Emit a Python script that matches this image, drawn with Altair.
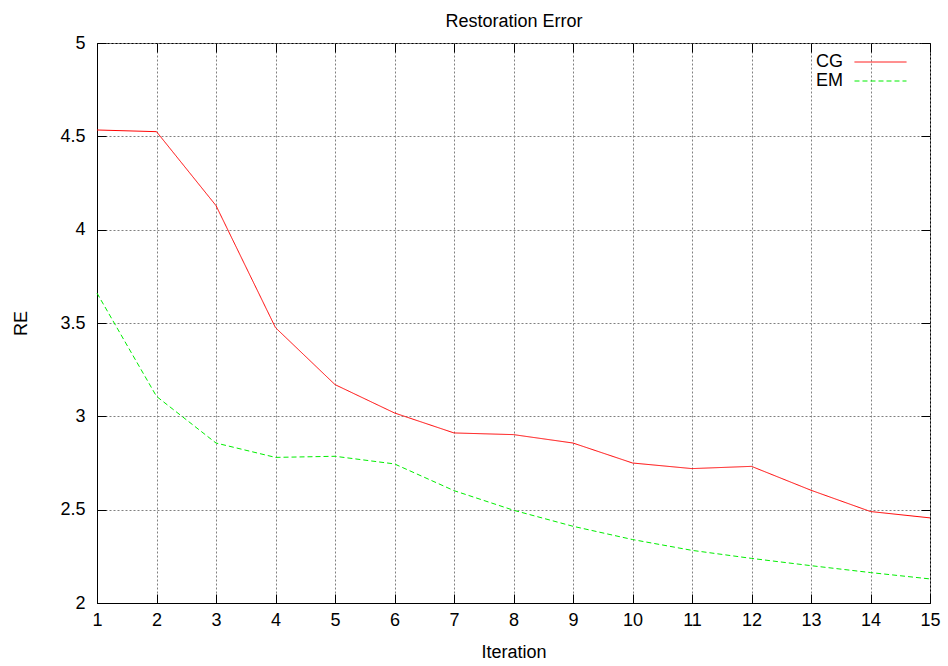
import altair as alt
import pandas as pd

# ---- data ----
iterations = list(range(1, 16))
cg_values = [4.534, 4.525, 4.129, 3.475, 3.170, 3.018, 2.911, 2.902, 2.857,
             2.750, 2.720, 2.732, 2.604, 2.490, 2.456]
em_values = [3.660, 3.107, 2.857, 2.780, 2.786, 2.745, 2.602, 2.497, 2.411,
             2.340, 2.282, 2.239, 2.200, 2.163, 2.129]
series_names = ["CG", "EM"]
x_ticks = list(range(1, 16))
y_ticks = [2, 2.5, 3, 3.5, 4, 4.5, 5]
chart_title = "Restoration Error"

line_colors = ["#ff0000", "#00ee00"]
line_dashes = [[1, 0], [5, 3]]

df = pd.DataFrame({
    "Iteration": iterations + iterations,
    "RE": cg_values + em_values,
    "Series": [series_names[0]] * len(iterations) + [series_names[1]] * len(iterations),
})

FONT = "Liberation Sans"
FS = 18
INWARD = {"expr": "-9"}

legend = alt.Legend(
    title=None,
    orient="none",
    legendX=774,
    legendY=9.5,
    padding=0,
    symbolType="M-2.89,0H2.89",
    symbolSize=324,
    symbolStrokeWidth=1,
    symbolFillColor="transparent",
    labelAlign="right",
    labelOffset={"expr": "-47"},
    labelFont=FONT,
    labelFontSize=FS,
    labelColor="black",
    rowPadding=0,
)

x_scale = alt.Scale(domain=[1, 15], nice=False, zero=False)
y_scale = alt.Scale(domain=[2, 5], nice=False, zero=False)

lines = alt.Chart(df).mark_line(strokeWidth=1).encode(
    x=alt.X(
        "Iteration:Q", scale=x_scale,
        axis=alt.Axis(
            values=x_ticks, title="Iteration", format="d",
            labelFlush=False, labelOverlap=False, ticks=True, tickSize=INWARD,
            labelPadding=17, titleX=416.5, titleY=54,
            titleBaseline="alphabetic", titleAlign="center",
        ),
    ),
    y=alt.Y(
        "RE:Q", scale=y_scale,
        axis=alt.Axis(
            values=y_ticks, title="RE", format="~g",
            labelFlush=False, labelOverlap=False, ticks=True, tickSize=INWARD,
            labelPadding=21, titleX=-71, titleY=280,
            titleBaseline="alphabetic", titleAlign="center", titleAngle=270,
        ),
    ),
    color=alt.Color("Series:N", scale=alt.Scale(domain=series_names, range=line_colors), legend=legend),
    strokeDash=alt.StrokeDash("Series:N", scale=alt.Scale(domain=series_names, range=line_dashes), legend=legend),
)

# invisible layer carrying the mirrored top/right axes; the top one carries the chart title
frame_layer = alt.Chart(df).mark_point(opacity=0).encode(
    x=alt.X(
        "Iteration:Q", scale=x_scale,
        axis=alt.Axis(
            orient="top", title=chart_title, labels=False, values=x_ticks,
            ticks=True, tickSize=INWARD, domain=False, grid=False,
            titleX=416.5, titleY=-17, titleBaseline="alphabetic", titleAlign="center",
        ),
    ),
    y=alt.Y(
        "RE:Q", scale=y_scale,
        axis=alt.Axis(
            orient="right", title=None, labels=False, values=y_ticks,
            ticks=True, tickSize=INWARD, domain=False, grid=False,
        ),
    ),
)

chart = alt.layer(lines, frame_layer).resolve_axis(x="independent", y="independent").properties(
    width=833,
    height=560,
    background="white",
    autosize=alt.AutoSizeParams(type="none"),
    padding={"left": 97, "top": 43, "right": 18, "bottom": 63},
).configure_axis(
    labelFont=FONT, labelFontSize=FS, labelColor="black",
    titleFont=FONT, titleFontSize=FS, titleFontWeight="normal", titleColor="black",
    domainColor="black", domainWidth=1,
    tickColor="black", tickWidth=1,
    gridColor="#808080", gridDash=[2, 2], gridWidth=1, gridOpacity=1,
).configure_view(
    stroke="black", strokeWidth=1,
)

chart.save("out.html", embed_options={"renderer": "svg", "actions": False})
